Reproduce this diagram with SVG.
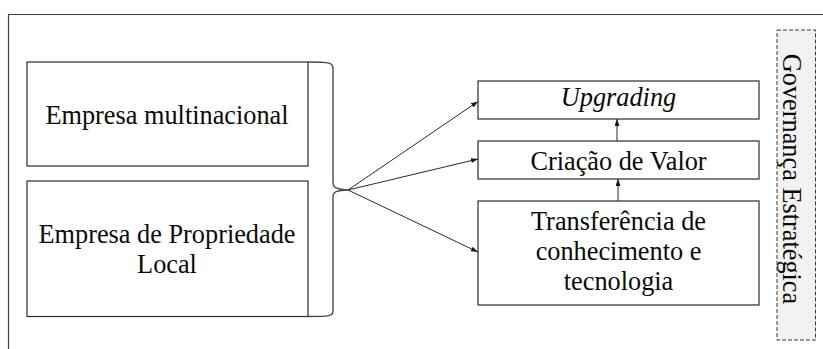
<svg xmlns="http://www.w3.org/2000/svg" width="823" height="349" viewBox="0 0 823 349">
  <style>
    .box { fill: #ffffff; stroke: #2b2b2b; stroke-width: 1.2; }
    .frame { fill: none; stroke: #444444; stroke-width: 1.2; }
    .t { font-family: 'Liberation Serif', 'Times New Roman', serif; font-size: 26.3px; fill: #0a0a0a; text-anchor: middle; }
    .conn { fill: none; stroke: #2b2b2b; stroke-width: 1; }
    .brace { fill: none; stroke: #4a4a4a; stroke-width: 1.4; }
    .gov { fill: #f2f2f2; stroke: #3a3a3a; stroke-width: 1; stroke-dasharray: 4 2; }
  </style>
  <defs>
    <marker id="arrow" viewBox="0 0 7 5" refX="7" refY="2.5" markerWidth="7" markerHeight="5" markerUnits="userSpaceOnUse" orient="auto">
      <path d="M0,0 L7,2.5 L0,5 Z" fill="#1a1a1a"/>
    </marker>
  </defs>

  <rect width="823" height="349" fill="#ffffff"/>
  <!-- outer frame: only top and left edges fall inside the canvas -->
  <path class="frame" d="M8.5,349 V14.5 H823"/>

  <g id="empresa-multinacional">
    <rect class="box" x="27" y="62" width="281" height="104"/>
    <text class="t" x="167" y="123.5">Empresa multinacional</text>
  </g>

  <g id="empresa-local">
    <rect class="box" x="27" y="181" width="281" height="135.5"/>
    <text class="t" x="167" y="242.5">Empresa de Propriedade</text>
    <text class="t" x="167" y="272.5">Local</text>
  </g>

  <g id="upgrading">
    <rect class="box" x="478" y="81" width="281" height="38"/>
    <text class="t" x="618.5" y="106" font-style="italic">Upgrading</text>
  </g>

  <g id="criacao-valor">
    <rect class="box" x="478" y="141" width="281" height="38"/>
    <text class="t" x="618.5" y="170">Criação de Valor</text>
  </g>

  <g id="transferencia">
    <rect class="box" x="478" y="201" width="281" height="104"/>
    <text class="t" x="618.5" y="230">Transferência de</text>
    <text class="t" x="618.5" y="260">conhecimento e</text>
    <text class="t" x="618.5" y="290">tecnologia</text>
  </g>

  <g id="governanca">
    <rect class="gov" x="777" y="30" width="38.5" height="310"/>
    <text class="t" transform="translate(783,179) rotate(90)" x="0" y="0">Governança Estratégica</text>
  </g>

  <g id="connectors">
    <!-- brace grouping the two firms -->
    <path class="brace" d="M308,62 C330,62 333,63 333,68 V183 C333,188 338,189.5 348,190 C338,190.5 333,191 333,197 V311 C333,316 330,316.5 308,316.5"/>
    <line class="conn" x1="348" y1="190" x2="478" y2="101.5" marker-end="url(#arrow)"/>
    <line class="conn" x1="348" y1="190" x2="478" y2="159" marker-end="url(#arrow)"/>
    <line class="conn" x1="348" y1="190" x2="478" y2="252" marker-end="url(#arrow)"/>
    <line class="conn" x1="617" y1="141" x2="617" y2="119" marker-end="url(#arrow)"/>
    <line class="conn" x1="618" y1="201" x2="618" y2="179" marker-end="url(#arrow)"/>
  </g>
</svg>
